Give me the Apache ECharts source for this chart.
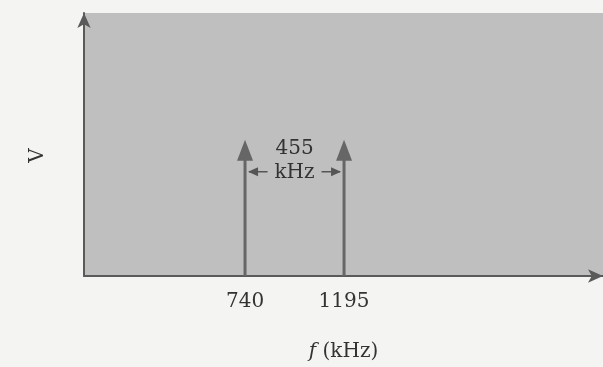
<!DOCTYPE html>
<html><head><meta charset="utf-8">
<script src="https://cdn.jsdelivr.net/npm/echarts@6/dist/echarts.min.js"></script>
<style>html,body{margin:0;padding:0;background:#f4f4f2;}#c{width:603px;height:367px;}</style>
</head><body><div id="c"></div>
<script>
// Data
const frequencies = [740, 1195];      // kHz
const amplitudes = [1, 1];            // relative V
const tickLabels = [740, 1195];
const xAxisName = 'f';
const xAxisUnit = ' (kHz)';
const yAxisName = 'V';
const separationUnit = 'kHz';

const FONT = 'DejaVu Serif';
const FS = 20;
const TXT = '#333333';
const AX = '#5a5a5a';
const chart = echarts.init(document.getElementById('c'));

function spikeItem(params, api) {
  const x = api.value(0), a = api.value(1);
  const p0 = api.coord([x, 0]);
  const p1 = api.coord([x, a]);
  const hw = 8, hh = 21;
  return {
    type: 'group',
    children: [
      {type: 'line', shape: {x1: p0[0], y1: p0[1], x2: p1[0], y2: p1[1] + hh - 2},
       style: {stroke: '#666666', lineWidth: 3}},
      {type: 'polygon', shape: {points: [[p1[0], p1[1]], [p1[0] - hw, p1[1] + hh], [p1[0] + hw, p1[1] + hh]]},
       style: {fill: '#666666'}}
    ]
  };
}

function annotItem(params, api) {
  const x1 = api.value(0), x2 = api.value(1), a = api.value(2);
  const pA = api.coord([x1, a]);
  const pB = api.coord([x2, a]);
  const mid = (pA[0] + pB[0]) / 2;
  const yText1 = pA[1] + 9;
  const yText2 = pA[1] + 33;
  const yArr = pA[1] + 32;
  const ah = 10, aw = 4.5;
  const col = '#555';
  const font = FS + 'px "' + FONT + '"';
  return {
    type: 'group',
    children: [
      {type: 'text', style: {text: String(x2 - x1), x: mid, y: yText1, align: 'center', verticalAlign: 'middle', font: font, fill: TXT}},
      {type: 'text', style: {text: separationUnit, x: mid, y: yText2, align: 'center', verticalAlign: 'middle', font: font, fill: TXT}},
      {type: 'line', shape: {x1: pA[0] + 4, y1: yArr, x2: mid - 27, y2: yArr}, style: {stroke: col, lineWidth: 1.5}},
      {type: 'polygon', shape: {points: [[pA[0] + 3, yArr], [pA[0] + 3 + ah, yArr - aw], [pA[0] + 3 + ah, yArr + aw]]}, style: {fill: col}},
      {type: 'line', shape: {x1: mid + 27, y1: yArr, x2: pB[0] - 4, y2: yArr}, style: {stroke: col, lineWidth: 1.5}},
      {type: 'polygon', shape: {points: [[pB[0] - 3, yArr], [pB[0] - 3 - ah, yArr - aw], [pB[0] - 3 - ah, yArr + aw]]}, style: {fill: col}}
    ]
  };
}

chart.setOption({
  backgroundColor: '#f4f4f2',
  animation: false,
  grid: {left: 84, right: 0, top: 13, bottom: 91, show: true, backgroundColor: '#bfbfbf', borderWidth: 0},
  xAxis: {
    type: 'value', min: 0, max: 2385,
    name: '{i|' + xAxisName + '}' + xAxisUnit, nameLocation: 'middle', nameGap: 66,
    nameTextStyle: {fontFamily: FONT, fontSize: FS, color: TXT,
      rich: {i: {fontFamily: FONT, fontStyle: 'italic', fontSize: FS, color: TXT}}},
    axisLine: {show: true, lineStyle: {color: AX, width: 2}, symbol: ['none', 'arrow'], symbolSize: [10, 15]},
    axisTick: {show: false},
    splitLine: {show: false},
    axisLabel: {customValues: tickLabels, margin: 16, fontFamily: FONT, fontSize: FS, color: TXT,
      formatter: v => String(v)}
  },
  yAxis: {
    type: 'value', min: 0, max: 1.93,
    name: yAxisName, nameLocation: 'middle', nameGap: 36,
    nameTextStyle: {fontFamily: FONT, fontSize: FS, color: TXT, padding: [0, 22, 0, 0]},
    axisLine: {show: true, lineStyle: {color: AX, width: 2}, symbol: ['none', 'arrow'], symbolSize: [10, 15]},
    axisTick: {show: false},
    splitLine: {show: false},
    axisLabel: {show: false}
  },
  series: [
    {type: 'custom', renderItem: spikeItem, data: frequencies.map((f, i) => [f, amplitudes[i]]), silent: true, clip: false},
    {type: 'custom', renderItem: annotItem, data: [[frequencies[0], frequencies[1], amplitudes[0]]], silent: true, clip: false}
  ]
});
</script></body></html>
